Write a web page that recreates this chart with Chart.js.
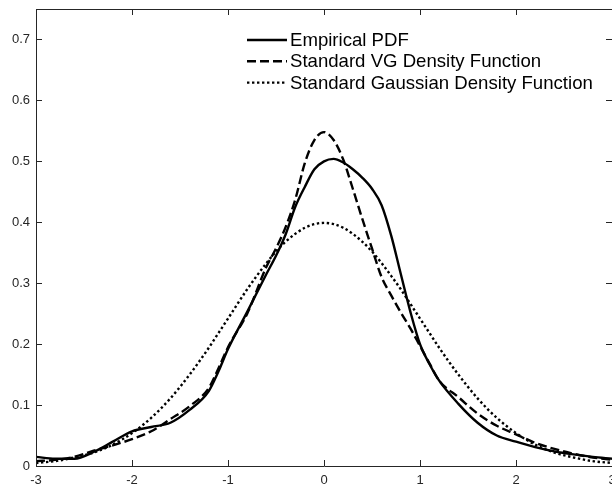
<!DOCTYPE html>
<html>
<head>
<meta charset="utf-8">
<script src="https://cdn.jsdelivr.net/npm/chart.js@4.4.0/dist/chart.umd.min.js"></script>
<style>
    html, body { margin: 0; padding: 0; background: #ffffff; }
    canvas { display: block; }
</style>
</head>
<body>
<canvas id="grafico" width="612" height="489"></canvas>
<script>
// Valores
const xValues = [-3, -2.8, -2.6, -2.4, -2.2, -2, -1.8, -1.6, -1.4, -1.2, -1.1, -1, -0.8, -0.6, -0.5, -0.4, -0.3, -0.2, -0.1,
    0, 0.1, 0.2, 0.3, 0.4, 0.5, 0.6, 0.7, 0.8, 0.9, 1, 1.1, 1.2, 1.4, 1.6, 1.8, 2, 2.2, 2.4, 2.6, 2.8, 3];
const empiricalPdf = [0.015, 0.012, 0.012, 0.023, 0.040, 0.057, 0.064, 0.071, 0.092, 0.123, 0.155, 0.192, 0.253, 0.315, 0.345, 0.380, 0.425, 0.458, 0.487,
    0.500, 0.504, 0.498, 0.487, 0.473, 0.455, 0.428, 0.378, 0.315, 0.253, 0.200, 0.167, 0.140, 0.102, 0.071, 0.050, 0.040, 0.031, 0.024, 0.019, 0.015, 0.012];
const vgDensity = [0.008, 0.010, 0.015, 0.025, 0.034, 0.044, 0.057, 0.077, 0.098, 0.128, 0.160, 0.195, 0.250, 0.327, 0.357, 0.392, 0.437, 0.497, 0.535,
    0.548, 0.535, 0.503, 0.455, 0.405, 0.357, 0.310, 0.280, 0.252, 0.226, 0.197, 0.168, 0.140, 0.113, 0.086, 0.066, 0.052, 0.038, 0.028, 0.020, 0.014, 0.010];
const gaussianDensity = [0.005, 0.008, 0.014, 0.022, 0.035, 0.054, 0.079, 0.111, 0.150, 0.194, 0.218, 0.242, 0.290, 0.333, 0.352, 0.368, 0.381, 0.391, 0.397,
    0.399, 0.397, 0.391, 0.381, 0.368, 0.352, 0.333, 0.312, 0.290, 0.266, 0.242, 0.218, 0.194, 0.150, 0.111, 0.079, 0.054, 0.035, 0.022, 0.014, 0.008, 0.005];
const seriesLabels = ['Empirical PDF', 'Standard VG Density Function', 'Standard Gaussian Density Function'];
const xTicks = [-3, -2, -1, 0, 1, 2, 3];
const yTicks = [0, 0.1, 0.2, 0.3, 0.4, 0.5, 0.6, 0.7];

const FONTE = '"Liberation Sans", Arial, Helvetica, sans-serif';
const COR_EIXO = '#262626';

function pontos(valores) {
    return xValues.map((x, i) => ({ x: x, y: valores[i] }));
}

// Caixa estilo MATLAB com marcas para dentro
const caixaPlugin = {
    id: 'caixa',
    afterDraw(chart) {
        const { ctx, chartArea: a, scales } = chart;
        const tl = 6;
        ctx.save();
        ctx.strokeStyle = COR_EIXO;
        ctx.lineWidth = 1;
        ctx.beginPath();
        ctx.rect(a.left + 0.5, a.top + 0.5, a.right - a.left, a.bottom - a.top);
        xTicks.forEach(v => {
            const px = Math.round(scales.x.getPixelForValue(v)) + 0.5;
            ctx.moveTo(px, a.bottom); ctx.lineTo(px, a.bottom - tl);
            ctx.moveTo(px, a.top); ctx.lineTo(px, a.top + tl);
        });
        yTicks.forEach(v => {
            const py = Math.round(scales.y.getPixelForValue(v)) + 0.5;
            ctx.moveTo(a.left, py); ctx.lineTo(a.left + tl, py);
            ctx.moveTo(a.right, py); ctx.lineTo(a.right - tl, py);
        });
        ctx.stroke();
        ctx.restore();
    }
};

// Legenda desenhada dentro da área do gráfico
const legendaPlugin = {
    id: 'legendaInterna',
    afterDraw(chart) {
        const ctx = chart.ctx;
        const x0 = 247, x1 = 287, xTexto = 290;
        const y0 = 40, passo = 21.3;
        ctx.save();
        ctx.font = '18.6px ' + FONTE;
        ctx.textBaseline = 'middle';
        ctx.fillStyle = '#000000';
        chart.data.datasets.forEach((ds, i) => {
            const y = y0 + i * passo;
            ctx.beginPath();
            ctx.strokeStyle = ds.borderColor;
            ctx.lineWidth = ds.borderWidth;
            ctx.setLineDash(ds.borderDash || []);
            ctx.moveTo(x0, y);
            ctx.lineTo(x1, y);
            ctx.stroke();
            ctx.setLineDash([]);
            ctx.fillText(ds.label, xTexto, y + 1);
        });
        ctx.restore();
    }
};

const ctx = document.getElementById('grafico').getContext('2d');
new Chart(ctx, {
    type: 'line',
    data: {
        datasets: [
            {
                label: seriesLabels[0],
                data: pontos(empiricalPdf),
                borderColor: '#000000',
                borderWidth: 2.4,
                pointRadius: 0,
                cubicInterpolationMode: 'monotone'
            },
            {
                label: seriesLabels[1],
                data: pontos(vgDensity),
                borderColor: '#000000',
                borderWidth: 2.4,
                borderDash: [9, 4],
                pointRadius: 0,
                cubicInterpolationMode: 'monotone'
            },
            {
                label: seriesLabels[2],
                data: pontos(gaussianDensity),
                borderColor: '#000000',
                borderWidth: 2.4,
                borderDash: [2.4, 2.6],
                pointRadius: 0,
                cubicInterpolationMode: 'monotone'
            }
        ]
    },
    options: {
        responsive: false,
        animation: false,
        events: [],
        layout: { padding: { top: 9, right: -1, left: 0, bottom: 0 } },
        plugins: {
            legend: { display: false },
            tooltip: { enabled: false }
        },
        scales: {
            x: {
                type: 'linear',
                min: -3,
                max: 3,
                afterBuildTicks: scale => { scale.ticks = xTicks.map(v => ({ value: v })); },
                afterFit: scale => { scale.height = 23; scale.paddingLeft = 0; scale.paddingRight = 0; },
                grid: { display: false, drawTicks: false },
                border: { display: false },
                ticks: {
                    color: COR_EIXO,
                    font: { family: FONTE, size: 13 },
                    padding: 7,
                    maxRotation: 0,
                    autoSkip: false,
                    callback: v => String(v)
                }
            },
            y: {
                type: 'linear',
                min: 0,
                max: 0.75,
                afterBuildTicks: scale => { scale.ticks = yTicks.map(v => ({ value: v })); },
                afterFit: scale => { scale.width = 36; scale.paddingTop = 0; scale.paddingBottom = 0; },
                grid: { display: false, drawTicks: false },
                border: { display: false },
                ticks: {
                    color: COR_EIXO,
                    font: { family: FONTE, size: 13 },
                    padding: 6,
                    autoSkip: false,
                    callback: v => String(Math.round(v * 10) / 10)
                }
            }
        }
    },
    plugins: [caixaPlugin, legendaPlugin]
});
</script>
</body>
</html>
